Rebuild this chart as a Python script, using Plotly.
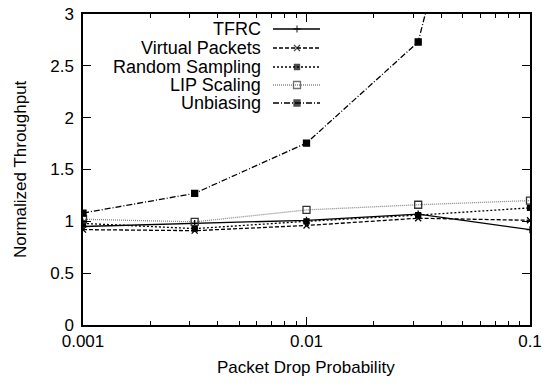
import plotly.graph_objects as go

x = [0.001, 0.00316, 0.01, 0.0316, 0.1]
names = ["TFRC", "Virtual Packets", "Random Sampling", "LIP Scaling", "Unbiasing"]
tfrc = [0.95, 0.98, 1.01, 1.07, 0.92]
virtual = [0.92, 0.91, 0.96, 1.03, 1.01]
random_s = [0.98, 0.93, 1.0, 1.06, 1.13]
lip = [1.02, 0.995, 1.11, 1.16, 1.2]
unbias = [1.08, 1.27, 1.755, 2.73, 7.0]
series = [tfrc, virtual, random_s, lip, unbias]

styles = [
    dict(color="black", dash="solid", symbol="cross-thin", msize=5, mcolor="black"),
    dict(color="black", dash="4px,2px", symbol="x-thin", msize=6, mcolor="black"),
    dict(color="black", dash="2px,2px", symbol="square", msize=5, mcolor="black"),
    dict(color="#888888", dash="1px,1px", symbol="square-open", msize=7, mcolor="#333333"),
    dict(color="black", dash="6px,2px,1px,2px", symbol="square", msize=6, mcolor="black"),
]

W, H = 547, 386
L, R, T, B = 83, 17, 14, 61
PW, PH = W - L - R, H - T - B


def px_to_paper(px, py):
    return (px - L) / PW, 1 - (py - T) / PH


fig = go.Figure()
for name, ys, st in zip(names, series, styles):
    fig.add_trace(go.Scatter(
        x=x, y=ys, mode="lines+markers", name=name, showlegend=False,
        line=dict(color=st["color"], dash=st["dash"], width=1.3),
        marker=dict(symbol=st["symbol"], size=st["msize"], color=st["mcolor"],
                    line=dict(color=st["mcolor"], width=1.3)),
    ))

font_family = "Liberation Sans, Arial, Helvetica, sans-serif"

# manual gnuplot-style legend (text on left, sample on right)
leg_y = [29, 48, 67, 85, 103]
for name, st, py in zip(names, styles, leg_y):
    xa, yp = px_to_paper(273, py)
    xb, _ = px_to_paper(297, py)
    xc, _ = px_to_paper(320, py)
    fig.add_trace(go.Scatter(
        x=[xa, xb, xc], y=[yp, yp, yp], xaxis="x2", yaxis="y2",
        mode="lines+markers", showlegend=False, hoverinfo="skip",
        line=dict(color=st["color"], dash=st["dash"], width=1.3),
        marker=dict(symbol=st["symbol"], size=[0, st["msize"], 0], color=st["mcolor"],
                    line=dict(color=st["mcolor"], width=1.3)),
    ))
    tx, _ = px_to_paper(263, py)
    fig.add_annotation(x=tx, y=yp, xref="paper", yref="paper", text=name,
                       showarrow=False, xanchor="right", yanchor="middle",
                       font=dict(size=18, color="black", family=font_family))

# axis titles
ax, ay = px_to_paper(306, 367)
fig.add_annotation(x=ax, y=ay, xref="paper", yref="paper", text="Packet Drop Probability",
                   showarrow=False, xanchor="center", yanchor="middle",
                   font=dict(size=17, color="black", family=font_family))
bx, by = px_to_paper(20, 169)
fig.add_annotation(x=bx, y=by, xref="paper", yref="paper", text="Normalized Throughput",
                   showarrow=False, xanchor="center", yanchor="middle", textangle=-90,
                   font=dict(size=17, color="black", family=font_family))

minor_vals = [m * 10.0 ** e for e in (-3, -2) for m in range(2, 10)]

fig.update_layout(
    width=W, height=H,
    margin=dict(l=L, r=R, t=T, b=B),
    paper_bgcolor="white", plot_bgcolor="white",
    font=dict(family=font_family, size=17, color="black"),
    showlegend=False,
    xaxis=dict(
        type="log", range=[-3, -1], tickmode="array", tickvals=[0.001, 0.01, 0.1],
        ticktext=["0.001", "0.01", "0.1"],
        ticks="inside", ticklen=8, tickwidth=1, tickcolor="black",
        minor=dict(tickmode="array", tickvals=minor_vals, ticks="inside", ticklen=4,
                   tickwidth=1, tickcolor="black", showgrid=False),
        showline=True, linecolor="black", linewidth=1.5, mirror="allticks",
        showgrid=False, zeroline=False, automargin=False,
        tickfont=dict(size=17),
    ),
    yaxis=dict(
        range=[0, 3], tickmode="array", tickvals=[0, 0.5, 1, 1.5, 2, 2.5, 3],
        ticktext=["0", "0.5", "1", "1.5", "2", "2.5", "3"],
        ticks="inside", ticklen=8, tickwidth=1, tickcolor="black",
        showline=True, linecolor="black", linewidth=1.5, mirror="allticks",
        showgrid=False, zeroline=False, automargin=False,
        tickfont=dict(size=17), ticklabelstandoff=4,
    ),
    xaxis2=dict(overlaying="x", range=[0, 1], visible=False, anchor="y2"),
    yaxis2=dict(overlaying="y", range=[0, 1], visible=False, anchor="x2"),
)
fig.write_html(
    "out.html",
    config={"displayModeBar": False},
    post_script="document.body.style.margin='0';document.body.style.padding='0';",
)
